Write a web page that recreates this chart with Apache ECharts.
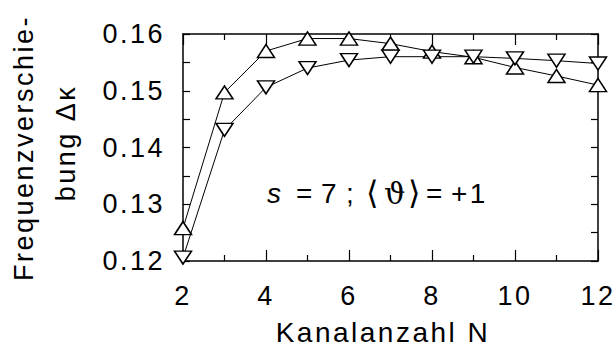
<!DOCTYPE html>
<html>
<head>
<meta charset="utf-8">
<script src="https://cdn.jsdelivr.net/npm/echarts@6/dist/echarts.min.js"></script>
<style>
  html, body { margin: 0; padding: 0; background: #fff; }
  #chart { width: 616px; height: 347px; }
  #chart svg text { letter-spacing: 2.5px; }
</style>
</head>
<body>
<div id="chart"></div>
<script>
// Channel count N and the frequency shift for the two marker series
const channelCounts = [2, 3, 4, 5, 6, 7, 8, 9, 10, 11, 12];
const shiftUpTriangles = [0.1258, 0.1497, 0.1570, 0.1592, 0.1592, 0.1583, 0.1569, 0.1559, 0.1541, 0.1526, 0.1510];
const shiftDownTriangles = [0.1206, 0.1431, 0.1506, 0.1540, 0.1554, 0.1560, 0.1560, 0.1560, 0.1557, 0.1553, 0.1548];

const xRange = { min: 2, max: 12, step: 2 };
const yRange = { min: 0.12, max: 0.16, step: 0.01 };

const FONT = '"Liberation Sans", Arial, sans-serif';

function pairs(xs, ys) { return xs.map((x, i) => [x, ys[i]]); }

const chart = echarts.init(document.getElementById('chart'), null, { renderer: 'svg' });

const axisLine = { show: true, lineStyle: { color: '#000', width: 1.5 } };

function xAxisCfg(pos, labels) {
  return {
    type: 'value', position: pos, min: xRange.min, max: xRange.max, interval: xRange.step,
    axisLine: axisLine,
    axisTick: { show: true, inside: true, length: 11, lineStyle: { color: '#000', width: 1.2 } },
    minorTick: { show: true, splitNumber: 2, length: 6, lineStyle: { color: '#000', width: 1.2 } },
    splitLine: { show: false },
    axisLabel: labels ? { show: true, color: '#000', fontFamily: FONT, fontSize: 27, margin: 21 } : { show: false }
  };
}
function yAxisCfg(pos, labels) {
  return {
    type: 'value', position: pos, min: yRange.min, max: yRange.max, interval: yRange.step,
    axisLine: axisLine,
    axisTick: { show: true, inside: true, length: 7, lineStyle: { color: '#000', width: 1.2 } },
    minorTick: { show: true, splitNumber: 2, length: 7, lineStyle: { color: '#000', width: 1.2 } },
    splitLine: { show: false },
    axisLabel: labels ? { show: true, color: '#000', fontFamily: FONT, fontSize: 27, margin: 18,
      formatter: v => v.toFixed(2) } : { show: false }
  };
}

const markerStyle = { color: '#fff', borderColor: '#000', borderWidth: 1.5 };

// Parameter annotation, laid out piece by piece: [text, left x, font]
const noteY = 193;
const notePieces = [
  ['s', 267, 'italic 28px ' + FONT],
  ['=', 296, '28px ' + FONT],
  ['7', 321, '28px ' + FONT],
  [';', 346, '28px ' + FONT],
  ['⟨', 366, '32px "DejaVu Sans"'],
  ['ϑ', 384, '30px "DejaVu Serif"'],
  ['⟩', 408, '32px "DejaVu Sans"'],
  ['=', 426, '28px ' + FONT],
  ['+1', 451, '28px ' + FONT]
];

chart.setOption({
  animation: false,
  backgroundColor: '#fff',
  grid: { left: 183, right: 16, top: 34, bottom: 86 },
  xAxis: [xAxisCfg('bottom', true), xAxisCfg('top', false)],
  yAxis: [yAxisCfg('left', true), yAxisCfg('right', false)],
  series: [
    {
      type: 'line', xAxisIndex: 0, yAxisIndex: 0,
      data: pairs(channelCounts, shiftUpTriangles),
      symbol: 'triangle', symbolSize: [17, 13],
      lineStyle: { color: '#000', width: 1 },
      itemStyle: markerStyle
    },
    {
      type: 'line', xAxisIndex: 0, yAxisIndex: 0,
      data: pairs(channelCounts, shiftDownTriangles),
      symbol: 'triangle', symbolRotate: 180, symbolSize: [17, 13],
      lineStyle: { color: '#000', width: 1 },
      itemStyle: markerStyle
    }
  ],
  graphic: [
    {
      type: 'text', x: 24, y: 148, rotation: Math.PI / 2,
      style: { text: 'Frequenzverschie-', font: '27px ' + FONT, fill: '#000', align: 'center', verticalAlign: 'middle' }
    },
    {
      type: 'text', x: 66, y: 143, rotation: Math.PI / 2,
      style: { text: 'bung Δκ', font: '27px ' + FONT, fill: '#000', align: 'center', verticalAlign: 'middle' }
    },
    {
      type: 'text', x: 383, y: 332,
      style: { text: 'Kanalanzahl N', font: '28px ' + FONT, fill: '#000', align: 'center', verticalAlign: 'middle' }
    }
  ].concat(notePieces.map(([t, x, f]) => ({
    type: 'text', x: x, y: noteY,
    style: { text: t, font: f, fill: '#000', align: 'left', verticalAlign: 'middle' }
  })))
});
</script>
</body>
</html>
